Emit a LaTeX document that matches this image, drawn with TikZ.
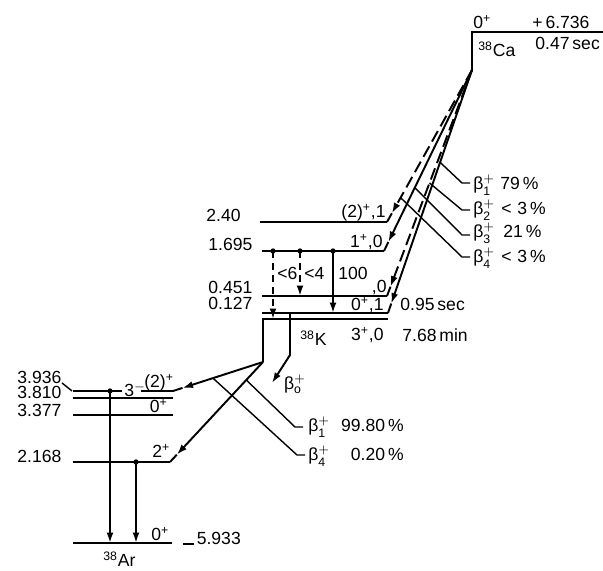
\documentclass[tikz,border=0pt]{standalone}
\usepackage{fontspec}
\setmainfont{Liberation Sans}
\usetikzlibrary{arrows.meta,calc}

\newcommand{\betap}[1]{β$^{+}_{\mathrm{#1}}$}

\begin{document}
\begin{tikzpicture}[x=0.02cm,y=-0.02cm,font=\normalsize,
   >={Latex[length=2.1mm,width=1.4mm]},
   lv/.style={line width=1.1pt},
   bdash/.style={line width=1.1pt,dash pattern=on 2.4mm off 1.1mm},
   gdash/.style={line width=1.1pt,dash pattern=on 1.5mm off 0.9mm},
   ld/.style={line width=0.8pt},
   lb/.style={inner sep=0pt}]
  \useasboundingbox (0,0) rectangle (603,571);

  \coordinate (cal) at (472,32);
  \coordinate (car) at (603,32);
  \coordinate (ca) at (472,70);
  \draw[lv] (car) -- (cal) -- (ca);
  \node[lb,anchor=base west] (caj) at (473,29) {0\textsuperscript{+}};
  \node[lb,anchor=base west] (cae) at (532,29) {+\,6.736};
  \node[lb,anchor=base west] (can) at (478,57) {\textsuperscript{38}Ca};
  \node[lb,anchor=base west] (cat) at (535,50) {0.47\,sec};

  \coordinate (k240l) at (260,222);  \coordinate (k240e) at (387,222);
  \coordinate (k1695l) at (262,251); \coordinate (k1695e) at (384,251);
  \coordinate (k451l) at (262,296);  \coordinate (k451e) at (387,296);
  \coordinate (k127l) at (262,313);  \coordinate (k127e) at (388,313);
  \coordinate (k0l) at (262,319);    \coordinate (k0e) at (388,319);
  \draw[lv] (k240l) -- (k240e);
  \draw[lv] (k1695l) -- (k1695e);
  \draw[lv] (k451l) -- (k451e);
  \draw[lv] (k127l) -- (k127e);
  \draw[lv] (k0l) -- (k0e);
  \node[lb,anchor=base west] (k240n) at (206,222) {2.40};
  \node[lb,anchor=base west] (k1695n) at (208,251) {1.695};
  \node[lb,anchor=base west] (k451n) at (208,294) {0.451};
  \node[lb,anchor=base west] (k127n) at (208,310) {0.127};
  \node[lb,anchor=base east] (k240j) at (386,218) {(2)\textsuperscript{+},1};
  \node[lb,anchor=base east] (k1695j) at (383,248) {1\textsuperscript{+},0};
  \node[lb,anchor=base east] (k451j) at (387,293) {,0};
  \node[lb,anchor=base east] (k127j) at (384,311) {0\textsuperscript{+},1};
  \node[lb,anchor=base west] (k127t) at (400,311) {0.95\,sec};
  \node[lb,anchor=base west] (k0n) at (300,346) {\textsuperscript{38}K};
  \node[lb,anchor=base east] (k0j) at (384,341) {3\textsuperscript{+},0};
  \node[lb,anchor=base west] (k0t) at (402,342) {7.68\,min};

  \coordinate (t240) at ($(k240e)!2mm!(ca)$);
  \coordinate (t1695) at ($(k1695e)!2mm!(ca)$);
  \coordinate (t451) at ($(k451e)!2mm!(ca)$);
  \coordinate (t127) at ($(k127e)!2mm!(ca)$);
  \draw[bdash,->] (ca) -- (t240);
  \draw[lv,->] (ca) -- (t1695);
  \draw[bdash,->] (ca) -- (t451);
  \draw[lv,->] (ca) -- (t127);
  \draw[lv] (k240e) -- (t240);
  \draw[lv] (k1695e) -- (t1695);
  \draw[lv] (k451e) -- (t451);
  \draw[lv] (k127e) -- (t127);

  \draw[ld] ($(ca)!0.38!(k127e)$) -- (462,183) -- (470,183);
  \draw[ld] ($(ca)!0.50!(k451e)$) -- (462,210) -- (470,210);
  \draw[ld] ($(ca)!0.65!(k1695e)$) -- (462,235) -- (470,235);
  \draw[ld] ($(ca)!0.84!(k240e)$) -- (462,257) -- (470,257);
  \node[lb,anchor=base west] (c1b) at (473,190) {\betap{1}};
  \node[lb,anchor=base west] (c1v) at (500,190) {79\,\%};
  \node[lb,anchor=base west] (c2b) at (473,215) {\betap{2}};
  \node[lb,anchor=base west] (c2v) at (501,215) {<\,\,3\,\%};
  \node[lb,anchor=base west] (c3b) at (473,238) {\betap{3}};
  \node[lb,anchor=base west] (c3v) at (503,238) {21\,\%};
  \node[lb,anchor=base west] (c4b) at (473,263) {\betap{4}};
  \node[lb,anchor=base west] (c4v) at (501,263) {<\,\,3\,\%};

  \coordinate (g1) at (273,251);
  \coordinate (g2) at (300,251);
  \coordinate (g3) at (333,251);
  \draw[gdash,->] (g1) -- (g1 |- k0l);
  \draw[gdash,->] (g2) -- (g2 |- k451l);
  \draw[lv,->] (g3) -- (g3 |- k127l);
  \foreach \g in {g1,g2,g3} \fill (\g) circle (1.5pt);
  \node[lb,anchor=base west] (g1n) at (277,280) {<6};
  \node[lb,anchor=base west] (g2n) at (304,280) {<4};
  \node[lb,anchor=base west] (g3n) at (338,280) {100};

  \coordinate (kv) at (263,319);
  \coordinate (kb) at (263,362);
  \coordinate (kmv) at (290,313);
  \coordinate (kmb) at (290,355);
  \coordinate (b0t) at (272,383);
  \draw[lv] (kv) -- (kb);
  \draw[lv,->] (kmv) -- (kmb) -- (b0t);
  \node[lb] (b0n) at (295,384) {\betap{o}};

  \coordinate (a3936l) at (73,391);  \coordinate (a3936e) at (173,391);
  \coordinate (a3810l) at (73,398);  \coordinate (a3810e) at (173,398);
  \coordinate (a3377l) at (73,415);  \coordinate (a3377e) at (173,415);
  \coordinate (a2168l) at (73,462);  \coordinate (a2168e) at (170,462);
  \coordinate (a0l) at (73,543);     \coordinate (a0e) at (172,543);
  \draw[lv] (a3936l) -- (122,391);
  \draw[lv] (141,391) -- (a3936e);
  \draw[lv] (a3810l) -- (a3810e);
  \draw[lv] (a3377l) -- (a3377e);
  \draw[lv] (a2168l) -- (a2168e);
  \draw[lv] (a0l) -- (a0e);
  \node[lb,anchor=base west] (a3936n) at (17,384) {3.936};
  \node[lb,anchor=base west] (a3810n) at (17,399) {3.810};
  \node[lb,anchor=base west] (a3377n) at (17,417) {3.377};
  \node[lb,anchor=base west] (a2168n) at (17,463) {2.168};
  \draw[ld] (62,383) -- (72,391);
  \node[lb,anchor=base west] (a3810j) at (124,397) {3$^{-}$};
  \node[lb,anchor=base west] (a3936j) at (144,388) {(2)\textsuperscript{+}};
  \node[lb,anchor=base east] (a3377j) at (168,413) {0\textsuperscript{+}};
  \node[lb,anchor=base west] (a2168j) at (152,458) {2\textsuperscript{+}};
  \node[lb,anchor=base west] (a0j) at (151,541) {0\textsuperscript{+}};
  \node[lb,anchor=base west] (a0v) at (183,545) {\rule{6pt}{0.9pt}\,5.933};
  \node[lb,anchor=base west] (a0n) at (103,567) {\textsuperscript{38}Ar};

  \coordinate (ta3936) at ($(a3936e)!2mm!(kb)$);
  \coordinate (ta2168) at ($(a2168e)!2mm!(kb)$);
  \draw[lv,->] (kb) -- (ta3936);
  \draw[lv,->] (kb) -- (ta2168);
  \draw[lv] (a3936e) -- (ta3936);
  \draw[lv] (a2168e) -- (ta2168);

  \coordinate (ag1) at (110,391);
  \coordinate (ag2) at (136,462);
  \draw[lv,->] (ag1) -- (ag1 |- a0l);
  \draw[lv,->] (ag2) -- (ag2 |- a0l);
  \foreach \g in {ag1,ag2} \fill (\g) circle (1.5pt);

  \draw[ld] ($(kb)!0.18!(a2168e)$) -- (295,427) -- (303,427);
  \draw[ld] ($(kb)!0.556!(a3936e)$) -- (297,455) -- (305,455);
  \node[lb,anchor=base west] (r1b) at (308,432) {\betap{1}};
  \node[lb,anchor=base east] (r1v) at (404,432) {99.80\,\%};
  \node[lb,anchor=base west] (r4b) at (308,461) {\betap{4}};
  \node[lb,anchor=base east] (r4v) at (404,461) {0.20\,\%};
\end{tikzpicture}
\end{document}
